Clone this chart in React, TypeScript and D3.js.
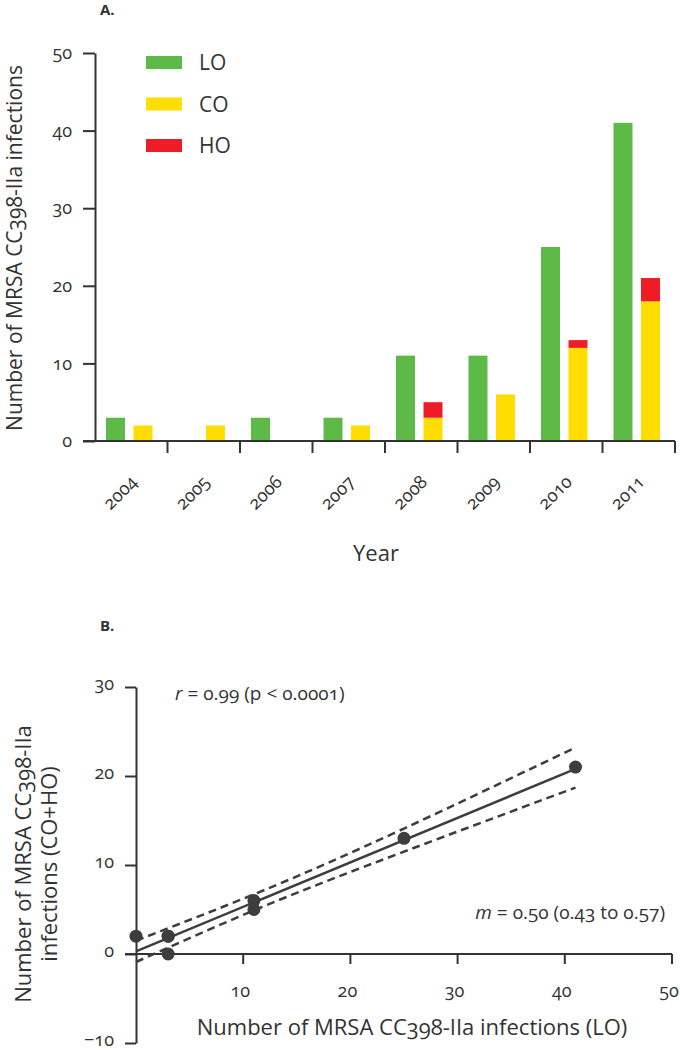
import React, { useEffect, useRef } from 'react'
import * as d3 from 'd3'

// Panel A: infections per year by origin
const years = ['2004', '2005', '2006', '2007', '2008', '2009', '2010', '2011']
const loCounts = [3, 0, 3, 3, 11, 11, 25, 41]
const coCounts = [2, 2, 0, 2, 3, 6, 12, 18]
const hoCounts = [0, 0, 0, 0, 2, 0, 1, 3]
const yTicksA = [0, 10, 20, 30, 40, 50]
const legendItems = ['LO', 'CO', 'HO']

// Panel B: regression of CO+HO on LO
const fitSlope = 0.5
const fitIntercept = 0.3
const fitRange = [0, 41]
const ciX = [0, 12, 25, 41]
const ciUpper = [1.5, 7.2, 14.1, 23.2]
const ciLower = [-0.9, 5.4, 11.5, 18.7]
const xTicksB = [10, 20, 30, 40, 50]
const yTicksB = [-10, 0, 10, 20, 30]

const colors = { LO: '#5dba46', CO: '#ffdd00', HO: '#ee1c25' }
const ink = '#333333'
const font = "'Open Sans', 'Noto Sans', sans-serif"

const App = () => {
    const svgRef = useRef<SVGSVGElement>(null)

    useEffect(() => {
        const svg = d3.select(svgRef.current)
        svg.selectAll('*').remove()
        svg.style('font-family', font).style('font-variant-numeric', 'oldstyle-nums')

        // ---------- panel A ----------
        const gA = svg.append('g')
        const y = d3.scaleLinear().domain([0, 50]).range([441, 53])
        const x0 = d3.scaleBand().domain(years).range([95, 675])
        const x1 = d3.scaleBand().domain(['LO', 'CO']).range([11, 57.5]).paddingInner(0.31)

        gA.append('text').attr('x', 100).attr('y', 15)
            .attr('font-size', 15).attr('font-weight', 'bold').attr('fill', ink).text('A.')

        const rows = years.map((yr, i) => ({ yr, lo: loCounts[i], co: coCounts[i], ho: hoCounts[i] }))

        gA.selectAll('.lo').data(rows).enter().append('rect')
            .attr('x', d => x0(d.yr) + x1('LO'))
            .attr('width', x1.bandwidth())
            .attr('y', d => y(d.lo))
            .attr('height', d => y(0) - y(d.lo))
            .attr('fill', colors.LO)

        gA.selectAll('.co').data(rows).enter().append('rect')
            .attr('x', d => x0(d.yr) + x1('CO'))
            .attr('width', x1.bandwidth())
            .attr('y', d => y(d.co))
            .attr('height', d => y(0) - y(d.co))
            .attr('fill', colors.CO)

        gA.selectAll('.ho').data(rows).enter().append('rect')
            .attr('x', d => x0(d.yr) + x1('CO'))
            .attr('width', x1.bandwidth())
            .attr('y', d => y(d.co + d.ho))
            .attr('height', d => y(d.co) - y(d.co + d.ho))
            .attr('fill', colors.HO)

        // y axis
        const yAxisA = gA.append('g').attr('transform', 'translate(95,0)')
            .call(d3.axisLeft(y).tickValues(yTicksA).tickSize(12).tickSizeOuter(0).tickPadding(11))
        yAxisA.select('.domain').attr('stroke', ink).attr('stroke-width', 2)
        yAxisA.selectAll('line').attr('stroke', ink).attr('stroke-width', 2)
        yAxisA.selectAll('text').attr('font-size', 18).attr('fill', ink).attr('font-family', font)

        // x axis
        gA.append('line').attr('x1', 83).attr('x2', 675).attr('y1', y(0)).attr('y2', y(0))
            .attr('stroke', ink).attr('stroke-width', 2)
        gA.selectAll('.xtick').data(years).enter().append('line')
            .attr('x1', d => x0(d) + x0.step()).attr('x2', d => x0(d) + x0.step())
            .attr('y1', y(0)).attr('y2', y(0) + 12)
            .attr('stroke', ink).attr('stroke-width', 2)
        gA.selectAll('.xlab').data(years).enter().append('text')
            .attr('transform', d => `translate(${x0(d) + x0.step() / 2 + 7},483) rotate(-45)`)
            .attr('text-anchor', 'end').attr('font-size', 18).attr('fill', ink)
            .text(d => d)

        gA.append('text').attr('x', 376).attr('y', 561).attr('text-anchor', 'middle')
            .attr('font-size', 22).attr('fill', ink).text('Year')
        gA.append('text').attr('transform', 'translate(22,248) rotate(-90)')
            .attr('text-anchor', 'middle').attr('font-size', 21).attr('fill', ink)
            .text('Number of MRSA CC398-IIa infections')

        // legend
        const leg = gA.selectAll('.leg').data(legendItems).enter().append('g')
            .attr('transform', (d, i) => `translate(146,${56 + i * 41.5})`)
        leg.append('rect').attr('width', 36).attr('height', 13).attr('fill', d => colors[d])
        leg.append('text').attr('x', 53).attr('y', 14).attr('font-size', 21).attr('fill', ink).text(d => d)

        // ---------- panel B ----------
        const gB = svg.append('g')
        const xB = d3.scaleLinear().domain([0, 50]).range([136, 672])
        const yB = d3.scaleLinear().domain([-10, 30]).range([1043, 687])

        gB.append('text').attr('x', 100).attr('y', 631)
            .attr('font-size', 15).attr('font-weight', 'bold').attr('fill', ink).text('B.')

        const yAxisB = gB.append('g').attr('transform', 'translate(136,0)')
            .call(d3.axisLeft(yB).tickValues(yTicksB).tickSize(11).tickSizeOuter(0).tickPadding(11)
                .tickFormat(d => d3.format('')(d).replace('-', '\u2212')))
        yAxisB.select('.domain').attr('stroke', ink).attr('stroke-width', 2)
        yAxisB.selectAll('line').attr('stroke', ink).attr('stroke-width', 2)
        yAxisB.selectAll('text').attr('font-size', 18).attr('fill', ink).attr('font-family', font)
            .attr('dy', '0.15em')

        gB.append('line').attr('x1', 125).attr('x2', xB(50)).attr('y1', yB(0)).attr('y2', yB(0))
            .attr('stroke', ink).attr('stroke-width', 2)
        gB.selectAll('.xt').data(xTicksB).enter().append('line')
            .attr('x1', d => xB(d)).attr('x2', d => xB(d))
            .attr('y1', yB(0)).attr('y2', yB(0) + 10)
            .attr('stroke', ink).attr('stroke-width', 2)
        gB.selectAll('.xl').data(xTicksB).enter().append('text')
            .attr('x', d => xB(d) - 3).attr('y', 997).attr('text-anchor', 'middle')
            .attr('font-size', 18).attr('fill', ink).text(d => d)

        // confidence band
        const ciLine = d3.line().x(d => xB(d[0])).y(d => yB(d[1])).curve(d3.curveNatural)
        ;[ciUpper, ciLower].forEach(arr => {
            gB.append('path').attr('d', ciLine(ciX.map((v, i) => [v, arr[i]])))
                .attr('fill', 'none').attr('stroke', '#3d3d3d').attr('stroke-width', 2.5)
                .attr('stroke-dasharray', '8,5')
        })

        // fit line
        gB.append('line')
            .attr('x1', xB(fitRange[0])).attr('y1', yB(fitIntercept + fitSlope * fitRange[0]))
            .attr('x2', xB(fitRange[1])).attr('y2', yB(fitIntercept + fitSlope * fitRange[1]))
            .attr('stroke', '#3d3d3d').attr('stroke-width', 2.5)

        // points
        gB.selectAll('.pt').data(rows).enter().append('circle')
            .attr('cx', d => xB(d.lo)).attr('cy', d => yB(d.co + d.ho))
            .attr('r', 6.5).attr('fill', '#3d3d3d')

        const rText = gB.append('text').attr('x', 175).attr('y', 700).attr('font-size', 19).attr('fill', ink)
        rText.append('tspan').attr('font-style', 'italic').text('r')
        rText.append('tspan').text(' = 0.99 (p < 0.0001)')

        const mText = gB.append('text').attr('x', 665).attr('y', 919).attr('text-anchor', 'end')
            .attr('font-size', 19).attr('fill', ink)
        mText.append('tspan').attr('font-style', 'italic').text('m')
        mText.append('tspan').text(' = 0.50 (0.43 to 0.57)')

        gB.append('text').attr('x', 412).attr('y', 1035).attr('text-anchor', 'middle')
            .attr('font-size', 22).attr('fill', ink).text('Number of MRSA CC398-IIa infections (LO)')

        const yTitle = gB.append('text').attr('transform', 'translate(31,864) rotate(-90)')
            .attr('text-anchor', 'middle').attr('font-size', 22).attr('fill', ink)
        yTitle.append('tspan').attr('x', 0).attr('y', 0).text('Number of MRSA CC398-IIa')
        yTitle.append('tspan').attr('x', 0).attr('y', 26).text('infections (CO+HO)')
    }, [])

    return (
        <svg ref={svgRef} width={680} height={1050}
            style={{ position: 'absolute', left: 0, top: 0, background: '#fff' }} />
    )
}

export default App
